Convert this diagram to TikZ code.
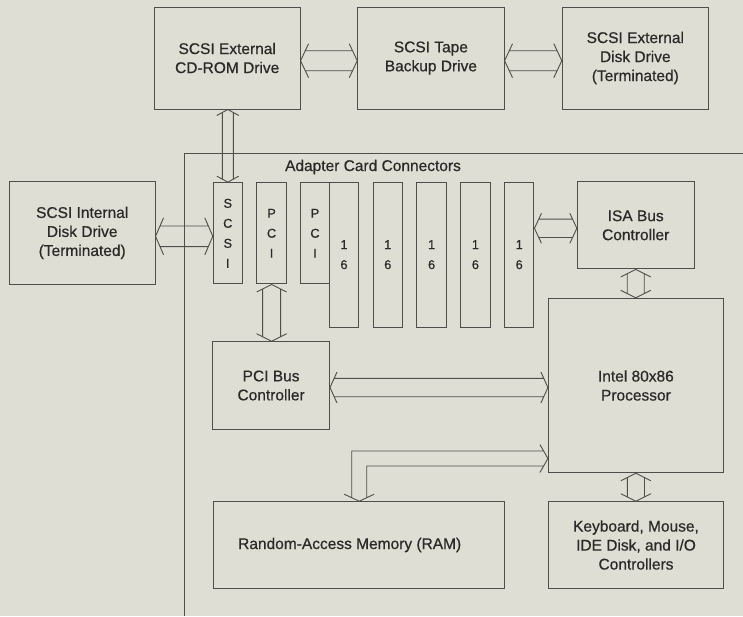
\documentclass[tikz,border=0pt]{standalone}
\usepackage{fontspec}
\setmainfont{Liberation Sans}
\newfontfamily\diagfont{Liberation Sans}[FakeBold=0.6]
\usetikzlibrary{calc}
\definecolor{bg}{RGB}{222,222,212}
\definecolor{ln}{RGB}{78,78,74}
\definecolor{tx}{RGB}{42,42,40}
\newcommand{\mainfnt}{\diagfont\fontsize{15.5}{19}\selectfont}
\newcommand{\slotfnt}{\diagfont\fontsize{12.8}{20}\selectfont}
\newcommand{\busarrow}[5]{%
  \draw[bus] ($($(#1)!#5pt!(#2)$)!#4pt!90:(#2)$) -- (#1) -- ($($(#1)!#5pt!(#2)$)!#4pt!-90:(#2)$)
             ($($(#2)!#5pt!(#1)$)!#4pt!90:(#1)$) -- (#2) -- ($($(#2)!#5pt!(#1)$)!#4pt!-90:(#1)$)
             ($($(#1)!{#5pt*#3/#4}!(#2)$)!#3pt!90:(#2)$) -- ($($(#2)!{#5pt*#3/#4}!(#1)$)!#3pt!-90:(#1)$)
             ($($(#1)!{#5pt*#3/#4}!(#2)$)!#3pt!-90:(#2)$) -- ($($(#2)!{#5pt*#3/#4}!(#1)$)!#3pt!90:(#1)$);%
}
\tikzset{
  box/.style={draw=ln, line width=1pt, inner sep=0pt, align=center, text=tx, font=\mainfnt},
  slot/.style={draw=ln, line width=1pt, inner sep=0pt, align=center, text=tx, font=\slotfnt},
  lbl/.style={inner sep=0pt, align=center, text=tx, font=\mainfnt},
  bus/.style={draw=ln, line width=0.9pt, line join=round},
  frame/.style={draw=ln, line width=1pt},
  wide16/.style={slot, minimum width=29.5pt, minimum height=145.3pt}
}
\begin{document}
\begin{tikzpicture}[x=1pt,y=-1pt]
\fill[bg] (0,0) rectangle (743,616);
\useasboundingbox (0,0) rectangle (743,616);
% board outline
\coordinate (bTR) at (743,153);
\coordinate (bTL) at (184,153);
\coordinate (bBL) at (184,616);
\draw[frame] (bTR) -- (bTL) -- (bBL);
% external devices
\node[box, minimum width=145.7pt, minimum height=102pt] (cd) at (227.2,58) {SCSI External\\CD-ROM Drive};
\node[box, minimum width=146.3pt, minimum height=102pt] (tape) at (430.9,58) {SCSI Tape\\Backup Drive};
\node[box, minimum width=146pt, minimum height=102pt] (ext) at (635.3,58) {SCSI External\\Disk Drive\\(Terminated)};
\node[box, minimum width=145.7pt, minimum height=102.3pt] (int) at (82.2,232.9) {SCSI Internal\\Disk Drive\\(Terminated)};
% adapter slots
\node[lbl] (acc) at (373,167) {Adapter Card Connectors};
\node[slot, minimum width=29pt, minimum height=101.3pt] (scsi) at (227.8,233.3) {S\\C\\S\\I};
\node[slot, minimum width=29.5pt, minimum height=101.3pt] (pcia) at (271.6,233.3) {P\\C\\I};
\node[slot, minimum width=28.6pt, minimum height=101.3pt] (pcib) at (315,233.3) {P\\C\\I};
\node[wide16] (s16a) at (344,254.7) {1\\6};
\node[wide16] (s16b) at (387.8,254.7) {1\\6};
\node[wide16] (s16c) at (431.6,254.7) {1\\6};
\node[wide16] (s16d) at (475.4,254.7) {1\\6};
\node[wide16] (s16e) at (519.2,254.7) {1\\6};
% board components
\node[box, minimum width=116.7pt, minimum height=87.3pt] (isa) at (635.7,225.3) {ISA Bus\\Controller};
\node[box, minimum width=175pt, minimum height=174.4pt] (intel) at (635.9,385.5) {Intel 80x86\\Processor};
\node[box, minimum width=116.8pt, minimum height=87.6pt] (pcic) at (271.1,385.5) {PCI Bus\\Controller};
\node[box, minimum width=290.8pt, minimum height=86.6pt] (ram) at (359.2,545) {};
\node[lbl] (ramlbl) at ([xshift=-9.5pt]ram.center) {Random-Access Memory (RAM)};
\node[box, minimum width=175pt, minimum height=86.6pt] (kbd) at (636,545) {Keyboard, Mouse,\\IDE Disk, and I/O\\Controllers};
% bus arrows
\coordinate (a1) at ([yshift=-2.7pt]cd.east);
\coordinate (a2) at (a1 -| tape.west);
\busarrow{a1}{a2}{10}{17}{8}
\coordinate (b1) at (a1 -| tape.east);
\coordinate (b2) at (a1 -| ext.west);
\busarrow{b1}{b2}{10}{17}{8}
\coordinate (c1) at (scsi.north |- cd.south);
\busarrow{c1}{scsi.north}{5.5}{11}{6}
\coordinate (d1) at ([yshift=-3.4pt]int.east);
\coordinate (d2) at (d1 -| scsi.west);
\busarrow{d1}{d2}{10.3}{18.5}{8}
\coordinate (e2) at (pcia.south |- pcic.north);
\busarrow{pcia.south}{e2}{9}{15}{7.5}
\coordinate (f2) at ([yshift=-3pt]isa.west);
\coordinate (f1) at (f2 -| s16e.east);
\busarrow{f1}{f2}{9.2}{15}{7}
\coordinate (g2) at (isa.south |- intel.north);
\busarrow{isa.south}{g2}{8.5}{15}{7.5}
\coordinate (h1) at ([yshift=-2pt]pcic.east);
\coordinate (h2) at (h1 -| intel.west);
\busarrow{h1}{h2}{9.2}{15.5}{7}
\coordinate (k2) at (intel.south |- kbd.north);
\busarrow{intel.south}{k2}{8.6}{15}{7.5}
% L-shaped memory bus
\coordinate (ltip) at ([yshift=14.7pt]intel.south west);
\coordinate (rtip) at (ram.north);
\coordinate (lcorner) at (rtip |- ltip);
\draw[bus] ($(ltip)+(-8,-14)$) -- (ltip) -- ($(ltip)+(-8,14)$)
  ($(rtip)+(-15,-7)$) -- (rtip) -- ($(rtip)+(15,-7)$)
  ($(ltip)+(-4.3,-7.5)$) -- ($(lcorner)+(-7.5,-7.5)$) -- ($(rtip)+(-7.5,-3.5)$)
  ($(ltip)+(-4.3,7.5)$) -- ($(lcorner)+(7.5,7.5)$) -- ($(rtip)+(7.5,-3.5)$);
\end{tikzpicture}
\end{document}
